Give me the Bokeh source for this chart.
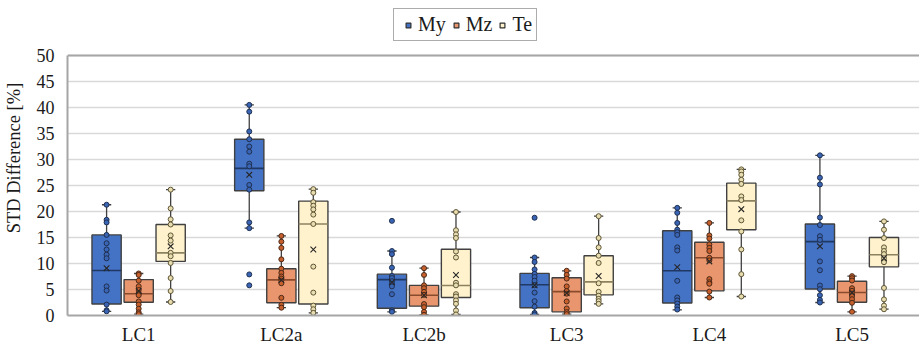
from bokeh.plotting import figure
from bokeh.models import Range1d, FixedTicker, Span, Legend, LegendItem
from bokeh.embed import file_html
from bokeh.resources import INLINE

categories = ["LC1", "LC2a", "LC2b", "LC3", "LC4", "LC5"]
series = ["My", "Mz", "Te"]
y_ticks = [0, 5, 10, 15, 20, 25, 30, 35, 40, 45, 50]

# box statistics per series (one value per category)
my_lower = [0.8, 16.8, 0.7, 0.2, 1.1, 2.5]
my_q1 = [2.2, 24.0, 1.4, 1.5, 2.4, 5.1]
my_median = [8.65, 28.3, 6.9, 5.9, 8.6, 14.2]
my_q3 = [15.5, 33.9, 7.95, 8.1, 16.3, 17.6]
my_upper = [21.3, 40.5, 12.4, 11.15, 20.7, 30.8]
my_mean = [9.1, 27.05, 6.4, 5.8, 9.3, 13.3]

mz_lower = [0.26, 1.5, 0.13, 0.26, 3.46, 0.7]
mz_q1 = [2.56, 2.44, 1.8, 0.7, 4.74, 2.56]
mz_median = [4.17, 6.85, 3.9, 4.6, 11.1, 4.42]
mz_q3 = [6.9, 9.0, 5.8, 7.25, 14.1, 6.6]
mz_upper = [8.08, 15.3, 9.1, 8.6, 17.8, 7.57]
mz_mean = [4.7, 6.8, 3.9, 4.3, 10.4, 4.4]

te_lower = [2.6, 0.5, 0.2, 2.24, 3.65, 1.22]
te_q1 = [10.4, 2.2, 3.46, 3.97, 16.5, 9.36]
te_median = [12.05, 17.6, 5.77, 6.47, 22.05, 11.67]
te_q3 = [17.5, 22.0, 12.75, 11.5, 25.45, 15.0]
te_upper = [24.2, 24.3, 19.9, 19.1, 28.1, 18.1]
te_mean = [13.3, 12.7, 7.8, 7.6, 20.45, 11.0]

# individual points per category
my_points = [
    [21.3, 18.4, 17.9, 15.5, 13.9, 12.7, 11.7, 11.0, 5.6, 4.8, 2.1, 1.0, 0.8],
    [40.5, 39.2, 35.4, 33.9, 32.5, 31.5, 29.2, 28.7, 25.1, 24.2, 17.9, 16.8, 7.9, 5.8],
    [18.2, 12.4, 11.8, 9.2, 7.6, 7.2, 6.6, 6.1, 5.6, 4.1, 1.0, 0.7],
    [18.8, 11.15, 10.3, 8.85, 8.0, 7.4, 6.7, 5.8, 4.4, 2.76, 1.7, 0.5, 0.2],
    [20.7, 19.75, 17.8, 16.5, 16.0, 15.5, 13.1, 12.5, 6.67, 3.46, 2.9, 2.3, 1.7, 1.15],
    [30.8, 26.5, 25.2, 18.85, 17.4, 15.25, 14.55, 10.4, 8.7, 5.77, 5.06, 3.9, 3.0, 2.5],
]
mz_points = [
    [8.08, 7.8, 6.7, 5.6, 4.9, 4.3, 3.9, 2.7, 2.1, 1.3, 0.6, 0.26],
    [15.3, 14.2, 13.0, 10.8, 9.0, 8.2, 7.5, 7.1, 6.7, 6.2, 3.4, 2.05, 1.5],
    [9.1, 7.8, 5.8, 5.25, 4.55, 3.97, 2.2, 1.6, 0.7, 0.13],
    [8.6, 7.8, 7.1, 5.6, 4.7, 4.2, 2.7, 1.35, 0.64, 0.26],
    [17.8, 15.4, 14.8, 13.65, 13.0, 12.4, 11.1, 10.6, 7.0, 6.4, 6.1, 4.6, 3.46],
    [7.57, 7.18, 6.73, 5.25, 4.74, 4.23, 3.72, 3.14, 2.44, 0.7],
]
te_points = [
    [24.2, 20.6, 18.5, 17.5, 15.4, 14.4, 12.05, 11.4, 10.1, 7.2, 4.7, 2.6],
    [24.3, 23.6, 21.8, 21.1, 20.4, 19.4, 17.6, 9.4, 4.4, 1.9, 1.2, 0.5],
    [19.9, 16.4, 15.6, 14.9, 12.3, 11.15, 6.3, 5.8, 4.1, 3.65, 2.9, 2.25, 0.96, 0.2],
    [19.1, 14.9, 13.1, 11.5, 10.1, 6.2, 4.55, 3.8, 3.2, 2.76, 2.24],
    [28.1, 27.7, 27.06, 26.1, 25.3, 22.9, 22.2, 18.3, 16.15, 12.7, 7.95, 3.65],
    [18.1, 16.5, 14.9, 13.1, 12.4, 11.8, 11.0, 10.25, 5.3, 3.1, 1.9, 1.2],
]

stats = {
    "My": (my_lower, my_q1, my_median, my_q3, my_upper, my_mean, my_points),
    "Mz": (mz_lower, mz_q1, mz_median, mz_q3, mz_upper, mz_mean, mz_points),
    "Te": (te_lower, te_q1, te_median, te_q3, te_upper, te_mean, te_points),
}
offsets = {"My": -0.225, "Mz": 0.0, "Te": 0.224}
fills = {"My": "#4472C4", "Mz": "#E9966F", "Te": "#FFF2CC"}
medline = {"My": "#1F3864", "Mz": "#8A4B2C", "Te": "#8C8260"}
pt_fill = {"My": "#3A65B5", "Mz": "#C8602E", "Te": "#E8DDB0"}
pt_line = {"My": "#1F3050", "Mz": "#4A2A18", "Te": "#5E5535"}

FONT = "Liberation Serif"
# frame spans the full height above the x axis; values 0-50 occupy its lower 260 px
p = figure(width=919, height=349, output_backend="svg", toolbar_location=None,
           x_range=Range1d(-0.499, 5.473), y_range=Range1d(0, 50 * 315 / 260),
           min_border_left=61, min_border_right=0, min_border_top=0, min_border_bottom=34)
p.outline_line_color = None
p.background_fill_color = "white"

box_w = 0.205
cap_w = 0.065
legend_items = []
for s in series:
    lo, q1, med, q3, up, mn, pts = stats[s]
    xs = [i + offsets[s] for i in range(len(categories))]
    # whiskers
    p.segment(x0=xs, y0=lo, x1=xs, y1=q1, line_color="#404040", line_width=1.3)
    p.segment(x0=xs, y0=q3, x1=xs, y1=up, line_color="#404040", line_width=1.3)
    p.segment(x0=[x - cap_w / 2 for x in xs], y0=lo, x1=[x + cap_w / 2 for x in xs], y1=lo,
              line_color="#404040", line_width=1.3)
    p.segment(x0=[x - cap_w / 2 for x in xs], y0=up, x1=[x + cap_w / 2 for x in xs], y1=up,
              line_color="#404040", line_width=1.3)
    p.vbar(x=xs, width=box_w, bottom=q1, top=q3, fill_color=fills[s],
           line_color="#404040", line_width=1.4)
    p.segment(x0=[x - box_w / 2 for x in xs], y0=med, x1=[x + box_w / 2 for x in xs], y1=med,
              line_color=medline[s], line_width=1.6)
    # points
    px, py = [], []
    for i, arr in enumerate(pts):
        px += [xs[i]] * len(arr)
        py += arr
    p.scatter(x=px, y=py, size=5, fill_color=pt_fill[s], line_color=pt_line[s], line_width=1)
    p.scatter(x=xs, y=mn, marker="x", size=8, line_color="#262626", line_width=1.1)
    # legend key: one square kept below the visible range, only shown in the legend
    key = p.scatter(x=[xs[0]], y=[-100], marker="square", size=9, fill_color=fills[s],
                    line_color="#303030", line_width=1.2)
    legend_items.append(LegendItem(label=s, renderers=[key]))

# axes
p.xgrid.grid_line_color = None
p.ygrid.grid_line_color = "#D9D9D9"
p.ygrid.grid_line_width = 1.5
p.yaxis.ticker = FixedTicker(ticks=y_ticks)
p.yaxis.bounds = (0, 50)
p.xaxis.ticker = FixedTicker(ticks=list(range(len(categories))))
p.xaxis.major_label_overrides = {i: c for i, c in enumerate(categories)}
for ax in (p.xaxis, p.yaxis):
    ax.major_tick_line_color = None
    ax.minor_tick_line_color = None
    ax.axis_line_color = "#A6A6A6"
    ax.axis_line_width = 2
    ax.major_label_text_font = FONT
    ax.major_label_text_color = "#1A1A1A"
p.yaxis.major_label_text_font_size = "18px"
p.xaxis.major_label_text_font_size = "19px"
p.yaxis.major_label_standoff = 7
p.xaxis.major_label_standoff = 2
p.yaxis.axis_label = "STD Difference [%]"
p.yaxis.axis_label_text_font = FONT
p.yaxis.axis_label_text_font_size = "18.5px"
p.yaxis.axis_label_text_font_style = "normal"
p.yaxis.axis_label_text_color = "#1A1A1A"
p.yaxis.axis_label_standoff = 10
p.add_layout(Span(location=50, dimension="width", line_color="#A6A6A6", line_width=2))

legend = Legend(items=legend_items, orientation="horizontal", location=(326, 274),
                glyph_width=20, glyph_height=12, label_text_font=FONT,
                label_text_font_size="20px", label_text_color="#1A1A1A",
                label_standoff=0, spacing=0, padding=4, margin=0,
                border_line_color="#595959", border_line_width=1.5,
                background_fill_color="white", background_fill_alpha=1)
p.add_layout(legend, "center")

open("out.html", "w").write(file_html(p, INLINE))
